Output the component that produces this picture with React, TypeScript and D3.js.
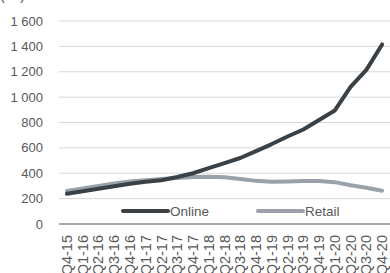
import { useEffect, useRef } from "react";
import * as d3 from "d3";

const quarters = [
  "Q4-15", "Q1-16", "Q2-16", "Q3-16", "Q4-16", "Q1-17", "Q2-17", "Q3-17", "Q4-17",
  "Q1-18", "Q2-18", "Q3-18", "Q4-18", "Q1-19", "Q2-19", "Q3-19", "Q4-19",
  "Q1-20", "Q2-20", "Q3-20", "Q4-20",
];
const online = [
  238, 258, 278, 298, 318, 333, 345, 370, 400, 440, 480, 520, 575, 630, 690, 745, 820,
  895, 1080, 1215, 1415,
];
const retail = [
  260, 280, 300, 320, 335, 345, 355, 362, 370, 372, 368, 355, 340, 333, 335, 338, 338,
  330, 305, 285, 262,
];
const yTicks = [0, 200, 400, 600, 800, 1000, 1200, 1400, 1600];
const unitLabel = "(bn)";

const App = () => {
  const ref = useRef<SVGSVGElement | null>(null);

  useEffect(() => {
    const width = 390;
    const height = 273;
    const margin = { top: 21, right: 0, bottom: 49, left: 59 };
    const font = "Liberation Sans, Arial, sans-serif";

    const svg = d3.select(ref.current);
    svg.selectAll("*").remove();

    const x = d3
      .scaleBand()
      .domain(quarters)
      .range([margin.left, width - margin.right]);
    const y = d3
      .scaleLinear()
      .domain([0, 1600])
      .range([height - margin.bottom, margin.top]);

    // unit label, mostly cut off at the top
    svg
      .append("text")
      .attr("x", 0)
      .attr("y", 0)
      .style("font-family", font)
      .style("font-size", "14px")
      .attr("fill", "#595959")
      .text(unitLabel);

    // gridlines
    svg
      .append("g")
      .selectAll("line")
      .data(yTicks.filter((d) => d > 0))
      .enter()
      .append("line")
      .attr("x1", margin.left)
      .attr("x2", width)
      .attr("y1", (d) => y(d))
      .attr("y2", (d) => y(d))
      .attr("stroke", "#d9d9d9")
      .attr("stroke-width", 1);

    // y labels
    svg
      .append("g")
      .selectAll("text")
      .data(yTicks)
      .enter()
      .append("text")
      .attr("x", 43)
      .attr("y", (d) => y(d))
      .attr("dy", "0.35em")
      .attr("text-anchor", "end")
      .style("font-family", font)
      .style("font-size", "13px")
      .attr("fill", "#595959")
      .text((d) => d3.format(",")(d).replace(/,/g, " "));

    // x axis line
    svg
      .append("line")
      .attr("x1", margin.left)
      .attr("x2", width)
      .attr("y1", y(0))
      .attr("y2", y(0))
      .attr("stroke", "#595959")
      .attr("stroke-width", 1.2);

    // x labels, rotated
    svg
      .append("g")
      .selectAll("text")
      .data(quarters)
      .enter()
      .append("text")
      .attr(
        "transform",
        (d) => `translate(${x(d)! + x.bandwidth() / 2},${y(0) + 11}) rotate(-90)`
      )
      .attr("dy", "0.35em")
      .attr("text-anchor", "end")
      .style("font-family", font)
      .style("font-size", "14.5px")
      .attr("fill", "#595959")
      .text((d) => d);

    const line = d3
      .line<number>()
      .x((_, i) => x(quarters[i])! + x.bandwidth() / 2)
      .y((d) => y(d));

    // legend
    const legend = [
      { name: "Online", color: "#394147", x: 123 },
      { name: "Retail", color: "#9aa1a8", x: 258 },
    ];
    const lg = svg.append("g");
    lg.selectAll("line")
      .data(legend)
      .enter()
      .append("line")
      .attr("x1", (d) => d.x)
      .attr("x2", (d) => d.x + 45)
      .attr("y1", 211)
      .attr("y2", 211)
      .attr("stroke", (d) => d.color)
      .attr("stroke-width", 4)
      .attr("stroke-linecap", "round");
    lg.selectAll("text")
      .data(legend)
      .enter()
      .append("text")
      .attr("x", (d) => d.x + 47)
      .attr("y", 211)
      .attr("dy", "0.35em")
      .style("font-family", font)
      .style("font-size", "13.5px")
      .attr("fill", "#595959")
      .text((d) => d.name);

    // series lines
    svg
      .append("path")
      .datum(retail)
      .attr("d", line)
      .attr("fill", "none")
      .attr("stroke", "#9aa1a8")
      .attr("stroke-width", 4)
      .attr("stroke-linejoin", "round")
      .attr("stroke-linecap", "round");
    svg
      .append("path")
      .datum(online)
      .attr("d", line)
      .attr("fill", "none")
      .attr("stroke", "#394147")
      .attr("stroke-width", 4)
      .attr("stroke-linejoin", "round")
      .attr("stroke-linecap", "round");
  }, []);

  return (
    <svg
      ref={ref}
      width={390}
      height={273}
      style={{ position: "absolute", left: 0, top: 0, background: "#fff" }}
    />
  );
};

export default App;
